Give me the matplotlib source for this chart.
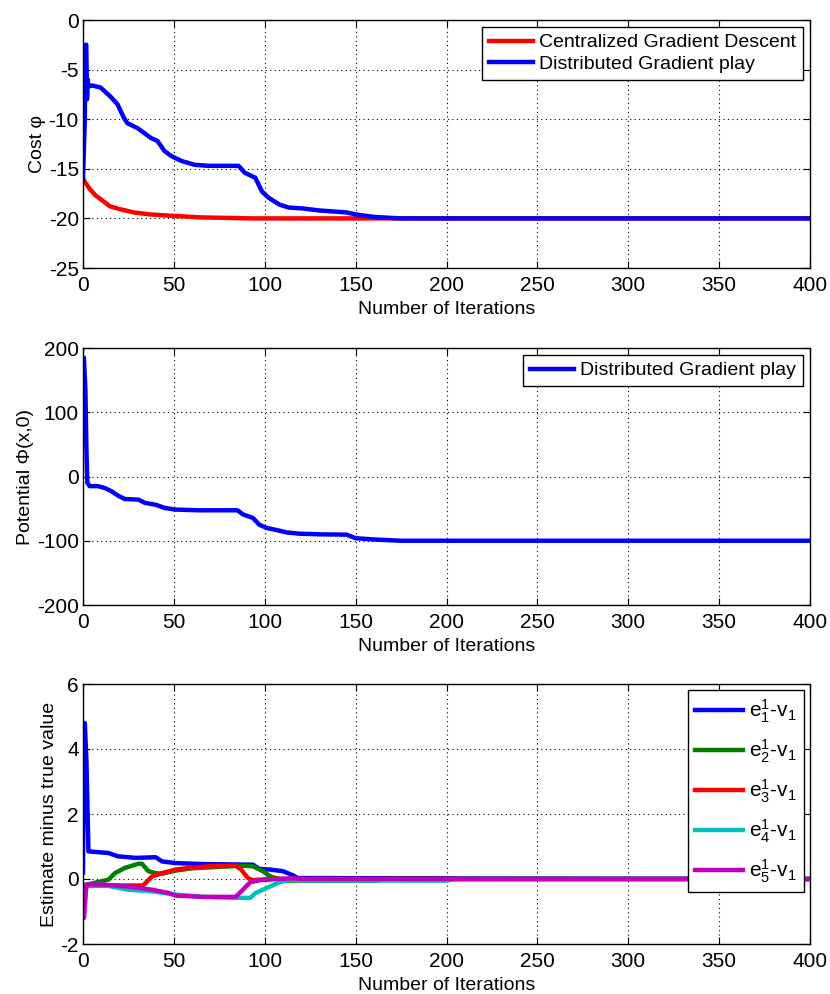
import matplotlib
matplotlib.use("Agg")
import matplotlib.pyplot as plt

plt.rcParams['font.family'] = ['Liberation Sans', 'DejaVu Sans']
plt.rcParams['mathtext.fontset'] = 'custom'
plt.rcParams['mathtext.rm'] = 'Liberation Sans'
plt.rcParams['mathtext.it'] = 'Liberation Sans'
plt.rcParams['axes.unicode_minus'] = False

# ---- panel 1: cost ----
cent_it = [0, 2, 4, 7, 10, 15, 21, 28, 37, 50, 65, 93, 130, 400]
cent_cost = [-16.0, -16.6, -17.1, -17.7, -18.1, -18.8, -19.1, -19.4, -19.6, -19.75, -19.9, -20.0, -20.0, -20.0]

dist_it = [0, 1, 1.3, 1.8, 2.2, 2.6, 3, 5, 9.6, 15, 19, 22.6, 24.4, 30, 33.7, 37.4, 41, 44.8, 48.5, 54,
           61.5, 69, 85.6, 89, 94.8, 98.5, 102, 108, 113, 121, 130, 145, 150, 160, 175, 400]
dist_cost = [-16.0, -10, -2.5, -2.5, -8.0, -6.0, -6.7, -6.6, -6.8, -7.7, -8.5, -9.9, -10.4, -10.9, -11.4, -11.9,
             -12.2, -13.2, -13.7, -14.2, -14.6, -14.7, -14.7, -15.4, -15.9, -17.3, -17.9, -18.6, -18.9, -19.0,
             -19.2, -19.4, -19.6, -19.85, -20.0, -20.0]

# ---- panel 2: potential ----
pot_it = [0, 0.5, 1.3, 1.9, 2.4, 3.7, 8.3, 12, 15.7, 19.4, 23, 30.5, 34, 40, 45, 51, 64, 85, 88, 93.5, 97,
          101, 106, 112, 119, 130, 145, 150, 160, 175, 400]
pot_val = [185, 185, 136, 40, -10, -15, -15, -18, -23, -30, -35, -36, -41, -44, -49, -51.5, -52.6, -52.6, -59,
           -64.5, -75, -80, -83, -87, -89, -90, -90.5, -96, -98, -100, -100]

# ---- panel 3: estimates ----
e1_it = [0, 0.5, 1, 1.9, 3, 14, 19, 29, 40, 43.5, 51, 66, 93.5, 97, 103, 110, 116, 118, 400]
e1_val = [0.2, 4.8, 4.8, 3.6, 0.85, 0.8, 0.7, 0.65, 0.67, 0.54, 0.49, 0.46, 0.44, 0.31, 0.29, 0.24, 0.1, 0.03, 0.0]

e2_it = [0, 14, 17.6, 23, 30.5, 32.4, 36, 40, 43.5, 50, 60, 88, 93.5, 99, 103, 106, 112, 160, 170, 400]
e2_val = [-0.2, -0.02, 0.18, 0.34, 0.47, 0.47, 0.24, 0.18, 0.16, 0.25, 0.33, 0.41, 0.39, 0.24, 0.08, 0.03,
          -0.05, -0.05, 0.0, 0.0]

e3_it = [0, 33, 38, 43.5, 51, 58, 69.4, 84, 87, 90.7, 93.5, 97, 105, 400]
e3_val = [-0.2, -0.2, 0.08, 0.18, 0.29, 0.34, 0.39, 0.41, 0.29, 0.03, -0.04, -0.02, 0.0, 0.0]

e4_it = [0, 10, 25, 38, 51, 66, 84, 92, 95, 99, 103, 108, 114, 120, 200, 205, 400]
e4_val = [-0.2, -0.17, -0.33, -0.38, -0.48, -0.55, -0.58, -0.58, -0.43, -0.33, -0.23, -0.1, -0.02, -0.04,
          -0.05, 0.0, 0.0]

e5_it = [0, 0.5, 1.9, 10, 25, 38, 47, 51, 66, 84, 88, 92, 97, 106, 116, 121, 400]
e5_val = [-0.2, -1.2, -0.17, -0.17, -0.23, -0.33, -0.43, -0.51, -0.55, -0.55, -0.33, -0.1, -0.04, 0.0, 0.02,
          0.0, 0.0]

est_series = [
    (e1_it, e1_val, (0, 0, 1), r'e$_1^1$-v$_1$'),
    (e2_it, e2_val, (0, 0.5, 0), r'e$_2^1$-v$_1$'),
    (e3_it, e3_val, (1, 0, 0), r'e$_3^1$-v$_1$'),
    (e4_it, e4_val, (0, 0.75, 0.75), r'e$_4^1$-v$_1$'),
    (e5_it, e5_val, (0.75, 0, 0.75), r'e$_5^1$-v$_1$'),
]

W, H = 830, 994
fig = plt.figure(figsize=(W / 100, H / 100), dpi=100)


def make_axes(left, top, right, bottom):
    return fig.add_axes([left / W, 1 - bottom / H, (right - left) / W, (bottom - top) / H])


def style(ax, ylim, yticks, ylabel):
    ax.set_xlim(0, 400)
    ax.set_xticks(range(0, 401, 50))
    ax.set_ylim(*ylim)
    ax.set_yticks(yticks)
    ax.grid(True, linestyle=(0, (1, 3)), color='black', linewidth=0.8)
    ax.tick_params(direction='in', top=True, right=True, labelsize=15, length=5, pad=3)
    ax.tick_params(axis='x', pad=6)
    ax.set_xlabel('Number of Iterations', fontsize=14, labelpad=4)
    ax.set_ylabel(ylabel, fontsize=14, labelpad=2)
    for s in ax.spines.values():
        s.set_linewidth(1.0)


lw = 3.2
leg_kw = dict(loc='upper right', fancybox=False, edgecolor='black', framealpha=1,
              handletextpad=0.3, borderpad=0.35)

ax1 = make_axes(83, 20, 810, 268)
ax1.plot(cent_it, cent_cost, color='red', lw=lw, label='Centralized Gradient Descent')
ax1.plot(dist_it, dist_cost, color='blue', lw=lw, label='Distributed Gradient play')
style(ax1, (-25, 0), range(-25, 1, 5), 'Cost φ')
ax1.legend(fontsize=14, borderaxespad=0.36, handlelength=2.3, labelspacing=0.2, **leg_kw)

ax2 = make_axes(83, 348, 810, 605)
ax2.plot(pot_it, pot_val, color='blue', lw=lw, label='Distributed Gradient play')
style(ax2, (-200, 200), range(-200, 201, 100), 'Potential Φ(x,0)')
ax2.legend(fontsize=14, borderaxespad=0.36, handlelength=2.3, **leg_kw)

ax3 = make_axes(83, 684, 810, 944)
for it, val, col, lab in est_series:
    ax3.plot(it, val, color=col, lw=lw, label=lab)
style(ax3, (-2, 6), range(-2, 7, 2), 'Estimate minus true value')
ax3.legend(fontsize=15, borderaxespad=0.3, handlelength=2.3, labelspacing=0.6, **leg_kw)

fig.savefig('out.png', dpi=100)
